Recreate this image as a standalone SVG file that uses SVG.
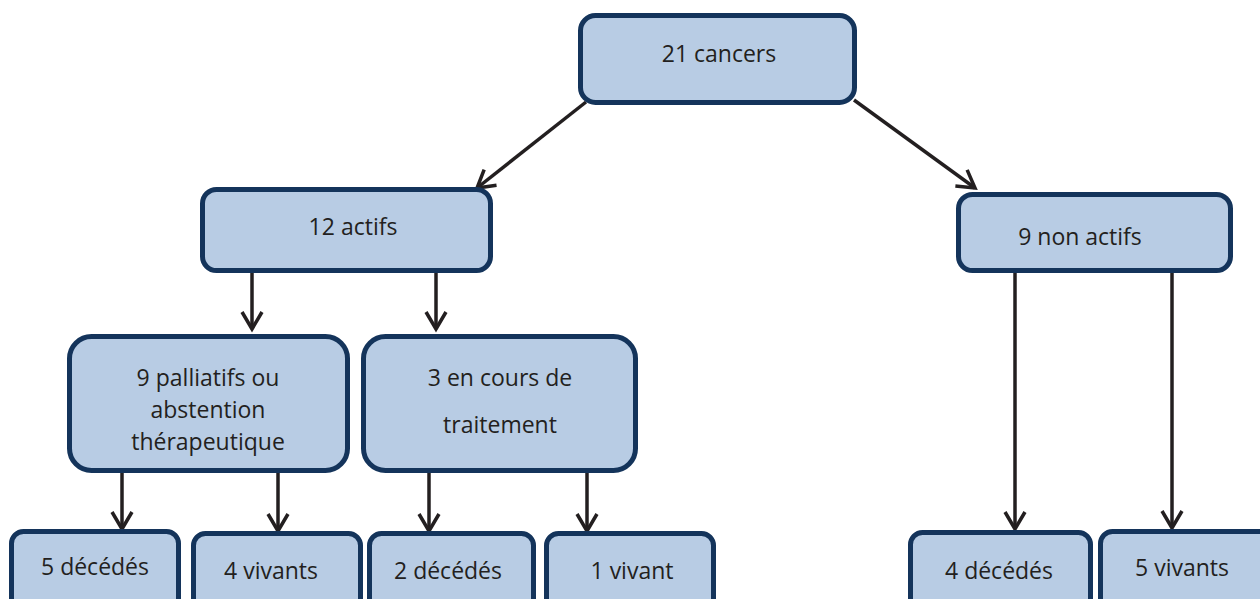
<svg xmlns="http://www.w3.org/2000/svg" width="1260" height="599" viewBox="0 0 1260 599">
<defs>
<style>
.box{fill:#b8cce4;stroke:#14345b;stroke-width:5}
.lbl{font-family:"Open Sans","Liberation Sans",sans-serif;font-size:23px;fill:#231f20;text-anchor:middle}
.con{stroke:#231f20;stroke-width:3.5;fill:none;marker-end:url(#arr)}
</style>
<marker id="arr" markerUnits="userSpaceOnUse" markerWidth="30" markerHeight="30" viewBox="-20 -15 30 30" refX="0" refY="0" orient="auto" overflow="visible">
<path d="M-17,-10 L0,0 L-17,10" fill="none" stroke="#231f20" stroke-width="3.5"/>
</marker>
</defs>
<rect width="1260" height="599" fill="#ffffff"/>
<g id="connectors">
<line class="con" x1="586" y1="102" x2="477" y2="188"/>
<line class="con" x1="854" y1="100" x2="975" y2="188"/>
<line class="con" x1="252" y1="273" x2="252" y2="329"/>
<line class="con" x1="436" y1="273" x2="436" y2="329"/>
<line class="con" x1="122" y1="473" x2="122" y2="529"/>
<line class="con" x1="278" y1="473" x2="278" y2="531"/>
<line class="con" x1="429" y1="473" x2="429" y2="531"/>
<line class="con" x1="587" y1="473" x2="587" y2="531"/>
<line class="con" x1="1015" y1="273" x2="1015" y2="529"/>
<line class="con" x1="1172" y1="273" x2="1172" y2="528"/>
</g>
<g id="n-cancers">
<rect class="box" x="580.5" y="15.5" width="274" height="87" rx="15"/>
<text class="lbl" x="719" y="62">21 cancers</text>
</g>
<g id="n-actifs">
<rect class="box" x="202.5" y="189.5" width="288" height="81" rx="14"/>
<text class="lbl" x="353" y="235">12 actifs</text>
</g>
<g id="n-nonactifs">
<rect class="box" x="958.5" y="194.5" width="272" height="76" rx="14"/>
<text class="lbl" x="1080" y="245">9 non actifs</text>
</g>
<g id="n-palliatifs">
<rect class="box" x="69.5" y="336.5" width="278" height="134" rx="22"/>
<text class="lbl" x="208" y="386">9 palliatifs ou</text>
<text class="lbl" x="208" y="418">abstention</text>
<text class="lbl" x="208" y="450">thérapeutique</text>
</g>
<g id="n-encours">
<rect class="box" x="363.5" y="336.5" width="272" height="134" rx="22"/>
<text class="lbl" x="500" y="386">3 en cours de</text>
<text class="lbl" x="500" y="433">traitement</text>
</g>
<g id="n-pal-dec">
<rect class="box" x="11.5" y="531.5" width="167" height="80" rx="12"/>
<text class="lbl" x="95" y="575">5 décédés</text>
</g>
<g id="n-pal-viv">
<rect class="box" x="193.5" y="533.5" width="167" height="80" rx="12"/>
<text class="lbl" x="271" y="579">4 vivants</text>
</g>
<g id="n-enc-dec">
<rect class="box" x="369.5" y="533.5" width="164" height="80" rx="12"/>
<text class="lbl" x="448" y="579">2 décédés</text>
</g>
<g id="n-enc-viv">
<rect class="box" x="546.5" y="533.5" width="167" height="80" rx="12"/>
<text class="lbl" x="632" y="579">1 vivant</text>
</g>
<g id="n-non-dec">
<rect class="box" x="910.5" y="532.5" width="180" height="80" rx="12"/>
<text class="lbl" x="999" y="579">4 décédés</text>
</g>
<g id="n-non-viv">
<rect class="box" x="1100.5" y="531.5" width="170" height="80" rx="12"/>
<text class="lbl" x="1182" y="576">5 vivants</text>
</g>
</svg>
